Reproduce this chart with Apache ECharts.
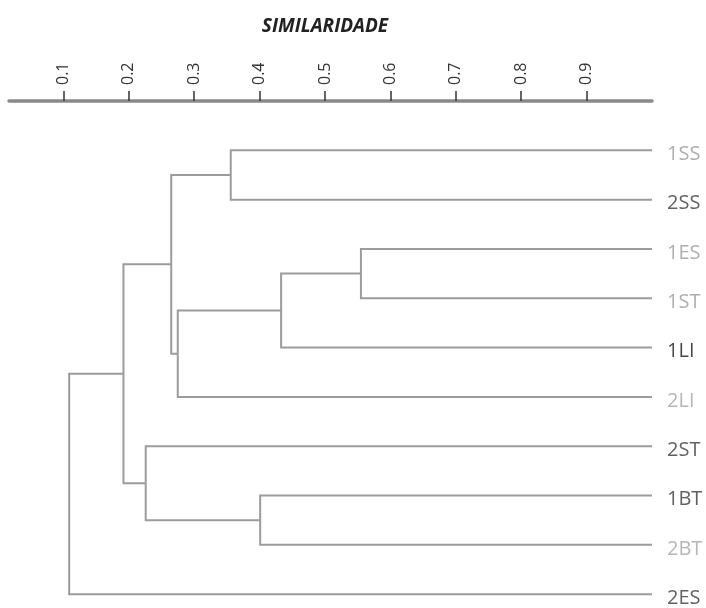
<!DOCTYPE html>
<html><head><meta charset="utf-8">
<script src="https://cdn.jsdelivr.net/npm/echarts@6/dist/echarts.min.js"></script>
<style>html,body{margin:0;padding:0;background:#fff}#c{width:706px;height:608px}</style>
</head><body><div id="c"></div>
<script>
// Leaves (top to bottom) and their label colours
const leaves = ['1SS','2SS','1ES','1ST','1LI','2LI','2ST','1BT','2BT','2ES'];
const leafColors = ['#9a9a9a','#3a3a3a','#9a9a9a','#9a9a9a','#1a1a1a','#a5a5a5','#3a3a3a','#3a3a3a','#a5a5a5','#3a3a3a'];
// Merges: left child, right child, similarity level
const mergeLeft   = ['1SS','1ES','c1','c2','c0','1BT','2ST','c4','c7'];
const mergeRight  = ['2SS','1ST','1LI','2LI','c3','2BT','c5','c6','2ES'];
const mergeHeight = [0.356, 0.555, 0.433, 0.275, 0.265, 0.401, 0.226, 0.192, 0.109];
const tickValues = [0.1,0.2,0.3,0.4,0.5,0.6,0.7,0.8,0.9];
const leafLevel = 1.0;

const pos = {};
leaves.forEach((l,i)=>{ pos[l] = {x: leafLevel, y: i}; });
const segs = [];
mergeLeft.forEach((a,i)=>{
  const b = mergeRight[i], h = mergeHeight[i];
  const A = pos[a], B = pos[b];
  segs.push({coords: [[A.x, A.y],[h, A.y],[h, B.y],[B.x, B.y]]});
  pos['c'+i] = {x: h, y: (A.y + B.y)/2};
});

const chart = echarts.init(document.getElementById('c'));
chart.setOption({
  animation: false,
  title: {text: 'SIMILARIDADE', left: 320, top: 12, textAlign: 'center',
    textStyle: {fontFamily: 'Open Sans', fontSize: 19, fontWeight: 'bold', fontStyle: 'italic', color: '#222'}},
  grid: {left: 9, top: 101, width: 643, height: 503},
  xAxis: {
    type: 'value', position: 'top', min: 0.017, max: 1.0,
    splitLine: {show: false},
    axisLine: {show: true, onZero: false, lineStyle: {color: '#8a8a8a', width: 3.5}},
    axisTick: {show: true, customValues: tickValues, length: 10, lineStyle: {color: '#333', width: 1.5}},
    axisLabel: {customValues: tickValues, rotate: -90, fontFamily: 'Open Sans', fontSize: 16, color: '#333', margin: 16,
      formatter: v => String(v)}
  },
  yAxis: {type: 'value', inverse: true, min: -1, max: 9.2, show: false},
  series: [
    {type: 'lines', coordinateSystem: 'cartesian2d', polyline: true, data: segs,
     lineStyle: {color: '#9c9c9c', width: 2, opacity: 1}, silent: true},
    {type: 'scatter', symbolSize: 0, silent: true,
     data: leaves.map((l,i)=>({value: [leafLevel, i], name: l,
       label: {show: true, position: 'right', distance: 15, offset: [0, 4], formatter: l, color: leafColors[i],
         fontFamily: 'Open Sans', fontSize: 20}}))}
  ]
});
</script></body></html>
